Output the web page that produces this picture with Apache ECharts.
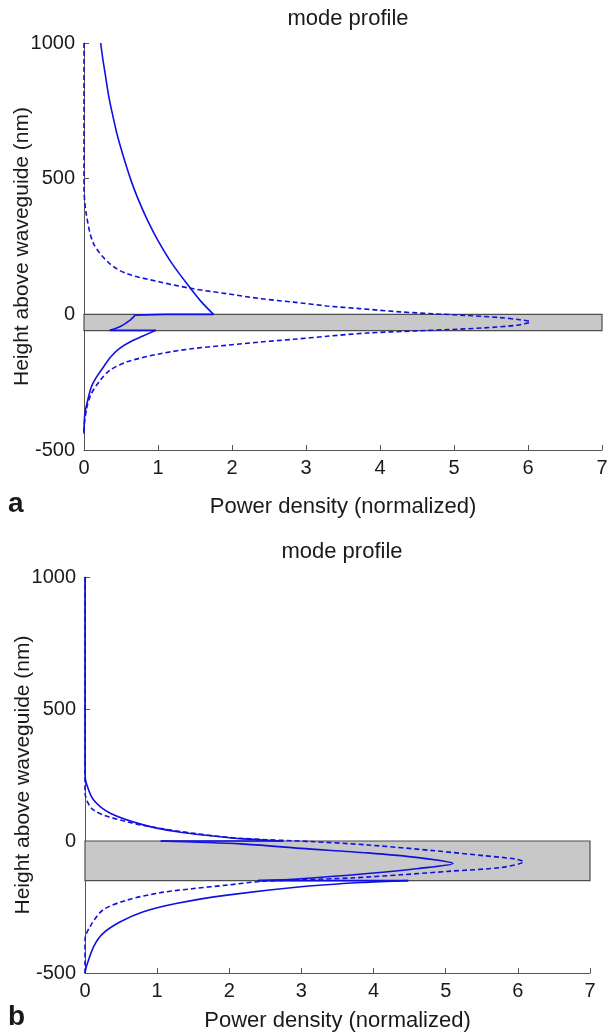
<!DOCTYPE html>
<html>
<head>
<meta charset="utf-8">
<script src="https://cdn.jsdelivr.net/npm/echarts@6/dist/echarts.min.js"></script>
<style>
html,body{margin:0;padding:0;background:#fff;}
#chart{width:610px;height:1033px;}
</style>
</head>
<body>
<div id="chart"></div>
<script>
// ---- data (power density [normalized], height above waveguide [nm]) ----
// null marks a break between continuous pieces of a curve
const xTicks = [0, 1, 2, 3, 4, 5, 6, 7];
const yTicks = [-500, 0, 500, 1000];
const titleText = 'mode profile';
const xName = 'Power density (normalized)';
const yName = 'Height above waveguide (nm)';
const panelLetters = ['a', 'b'];

// waveguide layer (grey box): [xStart, xEnd, hTop, hBottom]
const guideA = [0, 7, 0, -60];
const guideB = [0, 7, 0, -150];

// panel a
const aSolid = [
  [0.225,1000],[0.255,940],[0.29,880],[0.33,810],[0.375,750],[0.45,660],[0.55,566],
  [0.64,490],[0.74,419],[0.87,340],[1.00,272],[1.19,187],
  [1.43,99],[1.59,45],[1.75,0], null,
  [1.75,0],[1.09,0],[0.69,-3], null,
  [0.69,-3],[0.66,-12],[0.62,-22],[0.49,-45],[0.35,-59], null,
  [0.35,-59],[0.97,-59], null,
  [0.97,-59],[0.78,-82],[0.62,-102],[0.49,-124],[0.36,-157],[0.26,-195],[0.16,-235],
  [0.10,-267],[0.04,-328],[0.01,-370],[0,-440]
];
const aDashed = [
  [0,1000],[0,470],[0.03,371],[0.13,260],[0.35,186],[0.58,150],[1.03,119],[1.48,94],
  [1.93,76],[2.38,58],[2.83,45],[3.28,31],[3.73,21],[4.27,9],[4.72,2],[5.17,-4],
  [5.62,-12],[5.89,-20],[6.03,-27],[5.85,-40],[5.40,-50],[4.95,-56],[4.50,-61],
  [3.82,-69],[3.28,-81],[2.83,-92],[2.38,-102],[1.93,-114],[1.48,-126],[1.03,-145],
  [0.58,-175],[0.35,-206],[0.22,-243],[0.10,-292],[0.04,-341],[0,-430],[0,-440]
];

// panel b
const bSolid = [
  [0,1000],[0,256],[0.02,218],[0.12,155],[0.35,105],[0.81,61],[1.28,35],[1.74,20],
  [2.20,8],[2.67,1],[2.75,0], null,
  [2.75,0],[1.05,0], null,
  [1.05,0],[2.16,-11],[2.99,-28],[3.92,-45],[4.62,-63],
  [5.10,-85],[4.62,-104],[3.92,-123],[2.99,-143],[2.40,-150], null,
  [2.40,-150],[4.48,-150], null,
  [4.48,-150],[3.83,-157],
  [2.99,-173],[1.97,-205],[1.28,-236],[0.81,-268],[0.49,-306],[0.25,-350],[0.12,-400],
  [0.02,-475],[0,-500]
];
const bDashed = [
  [0,1000],[0,185],[0.12,117],[0.58,73],[1.04,48],[1.51,29],[1.97,14],[2.44,6],
  [3.13,-2],[3.92,-15],[4.85,-37],[5.54,-56],[5.96,-68],[6.08,-78],[5.78,-100],
  [5.08,-114],[4.38,-128],[3.69,-140],[2.99,-147],[2.44,-153],[1.97,-167],[1.51,-180],
  [1.04,-196],[0.58,-224],[0.25,-261],[0.07,-324],[0,-375],[0,-500]
];

// ---- chart ----
const FONT = '"Liberation Sans", Arial, sans-serif';
const axisColor = '#555';
const textColor = '#1a1a1a';
const blue = '#1010e0';

function xAxisDef(gridIndex, nameGap) {
  return {
    type: 'value', gridIndex, min: xTicks[0], max: xTicks[xTicks.length - 1], interval: 1,
    name: xName, nameLocation: 'middle', nameGap, nameMoveOverlap: false,
    nameTextStyle: { fontFamily: FONT, fontSize: 22, color: textColor },
    axisLine: { show: true, onZero: false, lineStyle: { color: axisColor, width: 1 } },
    axisTick: { show: true, inside: true, length: 5, lineStyle: { color: axisColor } },
    axisLabel: { fontFamily: FONT, fontSize: 20, color: textColor, margin: 8,
      formatter: v => String(v) },
    splitLine: { show: false }
  };
}
function yAxisDef(gridIndex) {
  return {
    type: 'value', gridIndex, min: yTicks[0], max: yTicks[yTicks.length - 1], interval: 500,
    name: yName, nameLocation: 'middle', nameGap: 51, nameRotate: 90, nameMoveOverlap: false,
    nameTextStyle: { fontFamily: FONT, fontSize: 21, color: textColor },
    axisLine: { show: true, onZero: false, lineStyle: { color: axisColor, width: 1 } },
    axisTick: { show: true, inside: true, length: 5, lineStyle: { color: axisColor } },
    axisLabel: { fontFamily: FONT, fontSize: 20, color: textColor, margin: 9,
      formatter: v => String(v) },
    splitLine: { show: false }
  };
}
function guideSeries(idx, g) {
  return {
    type: 'line', xAxisIndex: idx, yAxisIndex: idx, data: [], z: 1, silent: true,
    markArea: {
      silent: true,
      itemStyle: { color: '#c8c8c8', borderColor: '#4d4d4d', borderWidth: 1.2 },
      data: [[{ coord: [g[0], g[2]] }, { coord: [g[1], g[3]] }]]
    }
  };
}
function splitPieces(arr) {
  const out = [];
  let cur = [];
  arr.forEach(p => {
    if (p === null) { if (cur.length) out.push(cur); cur = []; }
    else cur.push(p);
  });
  if (cur.length) out.push(cur);
  return out;
}
function curves(idx, arr, dashed) {
  return splitPieces(arr).map(piece => ({
    type: 'line', xAxisIndex: idx, yAxisIndex: idx, data: piece, z: 5, symbol: 'none',
    silent: true, smooth: piece.length > 3 ? 0.3 : false,
    lineStyle: { color: blue, width: 1.6, type: dashed ? [5, 3] : 'solid' }
  }));
}

const chart = echarts.init(document.getElementById('chart'), null, { renderer: 'canvas' });
chart.setOption({
  animation: false,
  backgroundColor: '#ffffff',
  title: [
    { text: titleText, left: 343, top: 3, textAlign: 'center',
      textStyle: { fontFamily: FONT, fontSize: 22, fontWeight: 'normal', color: textColor } },
    { text: titleText, left: 337, top: 536, textAlign: 'center',
      textStyle: { fontFamily: FONT, fontSize: 22, fontWeight: 'normal', color: textColor } }
  ],
  grid: [
    { left: 84, top: 43, width: 518, height: 407, containLabel: false, outerBoundsMode: 'none' },
    { left: 85, top: 577, width: 505, height: 396, containLabel: false, outerBoundsMode: 'none' }
  ],
  xAxis: [xAxisDef(0, 46), xAxisDef(1, 37)],
  yAxis: [yAxisDef(0), yAxisDef(1)],
  graphic: [
    { type: 'text', left: 8, top: 490, style: { text: panelLetters[0], font: 'bold 28px ' + FONT, fill: textColor } },
    { type: 'text', left: 8, top: 1003, style: { text: panelLetters[1], font: 'bold 28px ' + FONT, fill: textColor } }
  ],
  series: [
    guideSeries(0, guideA),
    guideSeries(1, guideB),
    ...curves(0, aSolid, false),
    ...curves(0, aDashed, true),
    ...curves(1, bSolid, false),
    ...curves(1, bDashed, true)
  ]
});
</script>
</body>
</html>
